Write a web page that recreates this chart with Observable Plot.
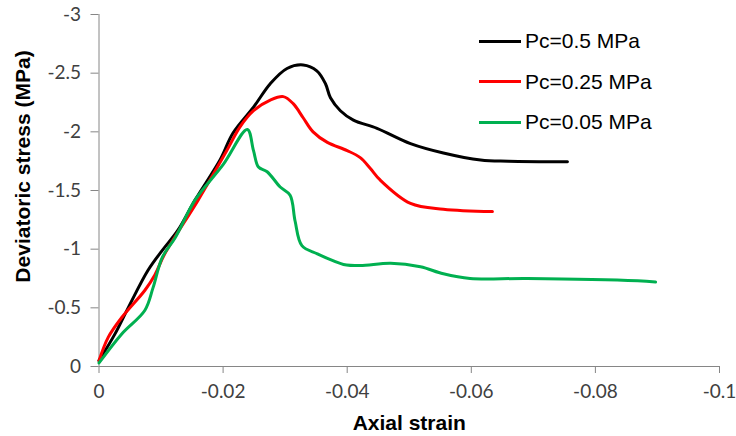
<!DOCTYPE html>
<html>
<head>
<meta charset="utf-8">
<script src="https://cdn.jsdelivr.net/npm/d3@7"></script>
<script src="https://cdn.jsdelivr.net/npm/@observablehq/plot@0.6"></script>
<style>
  body { margin: 0; background: #fff; }
  #wrap { position: relative; width: 736px; height: 436px; }
  #legend { position: absolute; left: 479px; top: 21px; font-family: "Liberation Sans", Arial, sans-serif; font-size: 21px; color: #000; }
  .row { display: flex; align-items: center; height: 40.5px; }
  .sw { width: 42px; height: 3px; margin-right: 4px; }
</style>
</head>
<body>
<div id="wrap"><div id="legend"></div></div>
<script>
// Series labels and colours
const seriesNames = ["Pc=0.5 MPa", "Pc=0.25 MPa", "Pc=0.05 MPa"];
const seriesColors = ["#000000", "#ff0000", "#00b050"];

// Pc = 0.5 MPa
const strain05 = [0, -0.0026, -0.0047, -0.0079, -0.0102, -0.0127, -0.0155, -0.0195, -0.0216, -0.0249, -0.0276, -0.0303, -0.0329, -0.0351, -0.0365, -0.0373, -0.0389, -0.041, -0.0448, -0.0502, -0.0555, -0.0615, -0.066, -0.0755];
const stress05 = [-0.05, -0.28, -0.50, -0.82, -0.99, -1.16, -1.42, -1.76, -1.99, -2.21, -2.41, -2.54, -2.57, -2.52, -2.41, -2.29, -2.18, -2.10, -2.03, -1.90, -1.82, -1.76, -1.75, -1.745];

// Pc = 0.25 MPa
const strain025 = [0, -0.0015, -0.0037, -0.0074, -0.009, -0.0106, -0.016, -0.0206, -0.0227, -0.0249, -0.0276, -0.0297, -0.0313, -0.0329, -0.0345, -0.0368, -0.040, -0.0421, -0.0437, -0.0453, -0.0502, -0.0555, -0.0634];
const stress025 = [-0.05, -0.25, -0.42, -0.65, -0.78, -0.96, -1.42, -1.84, -2.04, -2.18, -2.27, -2.30, -2.24, -2.12, -2.00, -1.91, -1.84, -1.78, -1.69, -1.59, -1.39, -1.34, -1.32];

// Pc = 0.05 MPa
const strain005 = [0, -0.0037, -0.0074, -0.0087, -0.0102, -0.0123, -0.0155, -0.020, -0.0239, -0.0249, -0.0257, -0.0271, -0.0292, -0.0308, -0.0316, -0.0327, -0.0352, -0.0378, -0.0394, -0.0421, -0.047, -0.0518, -0.0555, -0.0598, -0.069, -0.0868, -0.0897];
const stress005 = [-0.03, -0.28, -0.48, -0.67, -0.93, -1.10, -1.42, -1.72, -2.02, -1.84, -1.70, -1.66, -1.53, -1.46, -1.24, -1.03, -0.96, -0.90, -0.87, -0.86, -0.88, -0.85, -0.79, -0.75, -0.75, -0.73, -0.72];

// Axis ticks
const xTicks = [0, -0.02, -0.04, -0.06, -0.08, -0.1];
const yTicks = [0, -0.5, -1, -1.5, -2, -2.5, -3];
const xTickLabels = ["0", "-0.02", "-0.04", "-0.06", "-0.08", "-0.1"];
const yTickLabels = ["0", "-0.5", "-1", "-1.5", "-2", "-2.5", "-3"];
const xTitle = "Axial strain";
const yTitle = "Deviatoric stress (MPa)";

const seriesData = [
  [strain05, stress05],
  [strain025, stress025],
  [strain005, stress005]
].map(([xs, ys], k) => xs.map((x, i) => ({series: seriesNames[k], strain: x, stress: ys[i]})));

const axisGray = "#868686";
const tickFont = "Lato, 'Open Sans', sans-serif";
const titleFont = "'Liberation Sans', Arial, sans-serif";

const chart = Plot.plot({
  width: 736,
  height: 436,
  marginLeft: 98.5,
  marginRight: 17,
  marginTop: 14,
  marginBottom: 70,
  x: {domain: [0, -0.1]},
  y: {domain: [0, -3]},
  style: {background: "#fff", overflow: "visible"},
  marks: [
    Plot.ruleX([xTicks[0]], {stroke: axisGray, strokeWidth: 1}),
    Plot.ruleY([yTicks[0]], {stroke: axisGray, strokeWidth: 1}),
    Plot.axisX({ticks: xTicks, tickFormat: (d) => xTickLabels[xTicks.indexOf(d)], tickSize: 7, tickPadding: 11, stroke: axisGray, fill: "#404040", fontSize: 19, fontFamily: tickFont, label: null}),
    Plot.axisY({ticks: yTicks, tickFormat: (d) => yTickLabels[yTicks.indexOf(d)], tickSize: 8, tickPadding: 10, stroke: axisGray, fill: "#404040", fontSize: 19, fontFamily: tickFont, label: null}),
    ...seriesData.map((rows, k) => Plot.line(rows, {x: "strain", y: "stress", stroke: seriesColors[k], strokeWidth: 3, curve: "catmull-rom"})),
    Plot.text([xTitle], {frameAnchor: "bottom", textAnchor: "middle", dy: 63, fontSize: 21, fontWeight: "bold", fontFamily: titleFont, fill: "#000"}),
    Plot.text([yTitle], {frameAnchor: "left", textAnchor: "middle", rotate: -90, dx: -76, dy: -24, fontSize: 21, fontWeight: "bold", fontFamily: titleFont, fill: "#000"})
  ]
});

const wrap = document.getElementById("wrap");
wrap.insertBefore(chart, wrap.firstChild);

const legend = document.getElementById("legend");
seriesNames.forEach((name, k) => {
  const row = document.createElement("div");
  row.className = "row";
  const sw = document.createElement("div");
  sw.className = "sw";
  sw.style.background = seriesColors[k];
  const t = document.createElement("span");
  t.textContent = name;
  row.appendChild(sw);
  row.appendChild(t);
  legend.appendChild(row);
});
</script>
</body>
</html>
